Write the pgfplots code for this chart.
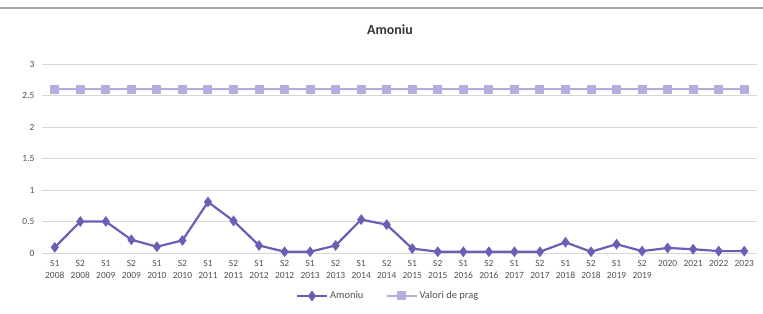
\documentclass[border=0pt]{standalone}
\usepackage{pgfplots}
\pgfplotsset{compat=1.18}
\usepackage{fontspec}
\setmainfont{Carlito}
\definecolor{amon}{RGB}{106,95,181}
\definecolor{prag}{RGB}{182,173,222}
\definecolor{gridc}{RGB}{215,215,215}
\definecolor{txt}{RGB}{80,80,80}
\begin{document}
\begin{tikzpicture}[x=1bp,y=1bp]
\useasboundingbox (0,0) rectangle (763,313);
\draw[gray!70,line width=1.2bp] (0,305) -- (763,305);
\begin{axis}[
  at={(42bp,60bp)}, anchor=south west,
  scale only axis, width=715bp, height=189bp,
  xmin=-0.5, xmax=27.5, ymin=0, ymax=3,
  ytick={0,0.5,...,3},
  yticklabel style={/pgf/number format/fixed, font=\fontsize{9.5}{9.5}\selectfont, text=txt, xshift=-4bp},
  /pgf/number format/assume math mode=true,
  xtick={0,...,27},
  xticklabels={S1\\2008,S2\\2008,S1\\2009,S2\\2009,S1\\2010,S2\\2010,S1\\2011,S2\\2011,S1\\2012,S2\\2012,S1\\2013,S2\\2013,S1\\2014,S2\\2014,S1\\2015,S2\\2015,S1\\2016,S2\\2016,S1\\2017,S2\\2017,S1\\2018,S2\\2018,S1\\2019,S2\\2019,2020,2021,2022,2023},
  xticklabel style={align=center, font=\fontsize{9.5}{12}\selectfont, text=txt, anchor=north, yshift=-4bp},
  major tick length=0pt,
  ymajorgrids, grid style={gridc, line width=0.8bp},
  axis x line*=bottom, axis y line*=left,
  x axis line style={gridc, line width=0.8bp, -},
  y axis line style={draw=none},
  clip=false,
  legend style={at={(0.484,-0.2275)}, anchor=center, draw=none, fill=none,
    legend columns=2, font=\fontsize{10.5}{10.5}\selectfont, text=txt,
    /tikz/every even column/.append style={column sep=20bp}},
  legend cell align=left,
  legend image code/.code={\draw[#1] (0bp,0bp) -- (30bp,0bp); \draw[#1,mark repeat=1] plot coordinates {(15bp,0bp)};},
]
\addplot[amon, line width=2.2bp, mark=diamond*, mark size=3.6bp, mark options={fill=amon,draw=amon}] coordinates {
(0,0.09)(1,0.5)(2,0.5)(3,0.21)(4,0.1)(5,0.2)(6,0.81)(7,0.51)(8,0.12)(9,0.02)
(10,0.02)(11,0.12)(12,0.53)(13,0.45)(14,0.07)(15,0.02)(16,0.02)(17,0.02)(18,0.02)(19,0.02)
(20,0.17)(21,0.02)(22,0.14)(23,0.03)(24,0.08)(25,0.06)(26,0.03)(27,0.03)};
\addlegendentry{Amoniu}
\addplot[prag, line width=2.2bp, mark=square*, mark size=3.4bp, mark options={fill=prag,draw=prag}] coordinates {
(0,2.6)(1,2.6)(2,2.6)(3,2.6)(4,2.6)(5,2.6)(6,2.6)(7,2.6)(8,2.6)(9,2.6)
(10,2.6)(11,2.6)(12,2.6)(13,2.6)(14,2.6)(15,2.6)(16,2.6)(17,2.6)(18,2.6)(19,2.6)
(20,2.6)(21,2.6)(22,2.6)(23,2.6)(24,2.6)(25,2.6)(26,2.6)(27,2.6)};
\addlegendentry{Valori de prag}
\end{axis}
\node[font=\bfseries\fontsize{14}{14}\selectfont, text=black!80] at (390,283) {Amoniu};
\end{tikzpicture}
\end{document}
